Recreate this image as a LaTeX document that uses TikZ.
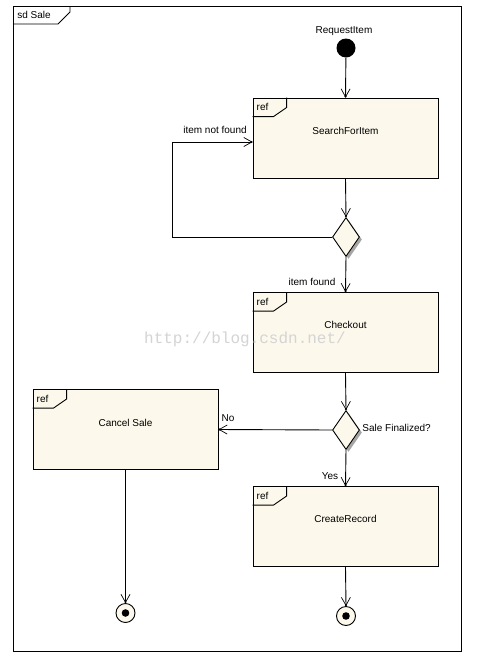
\documentclass[tikz,border=0pt]{standalone}
\usepackage{fontspec}
\setmainfont{Liberation Sans}
\newfontfamily\wmfont{Liberation Mono}
\usetikzlibrary{arrows.meta,shapes.geometric,shadows,calc}
\definecolor{cream}{HTML}{FCF8EC}
\begin{document}
\begin{tikzpicture}[x=1pt,y=-1pt,
  font=\fontsize{10}{12}\selectfont,
  line width=0.9pt,
  arr/.style={-{Straight Barb[length=8pt,width=9pt,line width=0.7pt,sep=-2pt]Circle[length=2pt]}},
  actbox/.style={draw,fill=cream,minimum width=185pt,minimum height=80pt,inner sep=0pt},
  dec/.style={draw,diamond,fill=cream,minimum width=27pt,minimum height=39pt,inner sep=0pt,
     general shadow={fill=black!35,shadow xshift=2.5pt,shadow yshift=-2.5pt}},
  lbl/.style={inner sep=1pt},
  fin/.style={draw,circle,fill=cream,minimum size=19pt,inner sep=0pt}]
\useasboundingbox (0,0) rectangle (483,665);
\fill[white] (0,0) rectangle (483,665);
% frame
\draw (13,6) rectangle (461,651);
\draw (70,6) -- (70,12) -- (58,24) -- (13,24);
\node[lbl] (sd) at (34,15) {sd Sale};
% initial
\node[circle,fill=black,minimum size=19pt,inner sep=0pt] (init) at (346,48) {};
\node[lbl] (reqlbl) at (344,31) {RequestItem};
% boxes
\node[actbox,label={[yshift=7pt]center:SearchForItem}] (s1) at (345.5,138) {};
\node[actbox,label={[yshift=8pt]center:Checkout}] (s2) at (345.5,332.5) {};
\node[actbox,label={[yshift=6.5pt]center:Cancel Sale}] (s3) at (125.5,429.5) {};
\node[actbox,label={[yshift=7.5pt]center:CreateRecord}] (s4) at (345.5,526.5) {};
\foreach \b in {s1,s2,s3,s4}{
  \draw ([xshift=34pt]\b.north west) -- ++(0,10) -- ++(-13,9) -- ([yshift=-19pt]\b.north west);
  \node[lbl] at ([xshift=10pt,yshift=-9.5pt]\b.north west) {ref};
}
% decisions
\node[dec] (d1) at (346,237) {};
\node[dec] (d2) at (346,430) {};
% finals
\node[fin] (f1) at (125.5,613) {};
\fill (f1.center) circle (3.8pt);
\node[fin] (f2) at (346,616) {};
\fill (f2.center) circle (3.8pt);
% connectors
\coordinate (lp) at (172,142);
\draw[arr] (init) -- (s1.north);
\draw[arr] (s1.south) -- (d1.north);
\draw[arr] (d1.west) -| (lp) -- (lp -| s1.west);
\draw[arr] (d1.south) -- (s2.north);
\draw[arr] (s2.south) -- (d2.north);
\draw[arr] (d2.west) -- (s3.east);
\draw[arr] (d2.south) -- (s4.north);
\draw[arr] (s3.south) -- (f1.north);
\draw[arr] (s4.south) -- (f2.north);
% labels
\node[lbl] (l1) at (215,130) {item not found};
\node[lbl] (l2) at (312,282) {item found};
\node[lbl] (l3) at (228,418) {No};
\node[lbl] (l4) at (330,476) {Yes};
\node[lbl,anchor=west] (l5) at (361,428) {Sale Finalized?};
% watermark
\node[text=black!17,font=\wmfont\fontsize{16}{18}\selectfont] (wm) at (245,339) {http://blog.csdn.net/};
\end{tikzpicture}
\end{document}
